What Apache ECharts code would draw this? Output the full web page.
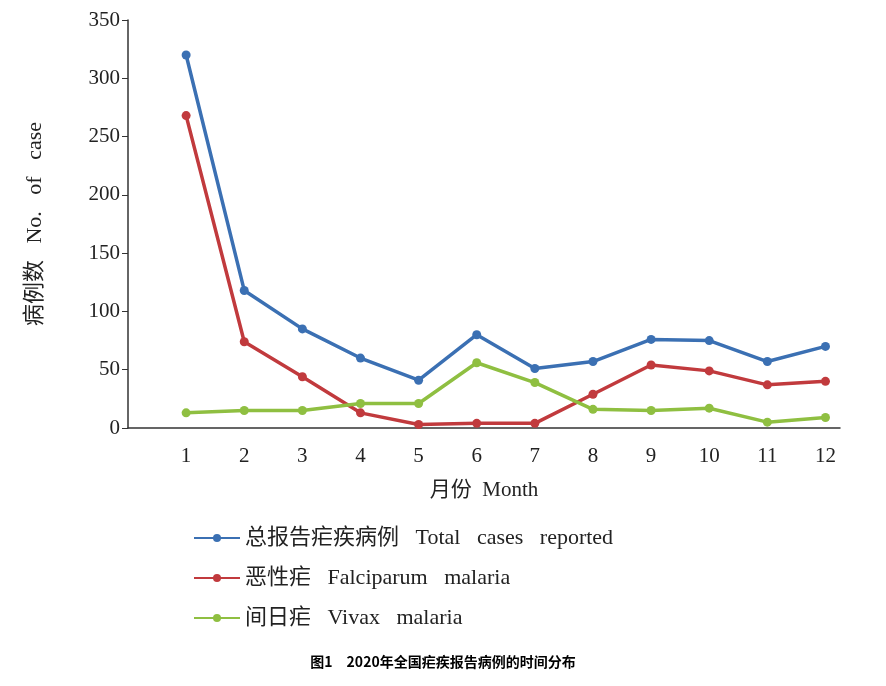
<!DOCTYPE html>
<html>
<head>
<meta charset="utf-8">
<script src="https://cdn.jsdelivr.net/npm/echarts@6/dist/echarts.min.js"></script>
<style>html,body{margin:0;background:#fff}#chart-container{width:886px;height:686px}</style>
</head>
<body>
<div id="chart-container"></div>
<script>
var months = [1, 2, 3, 4, 5, 6, 7, 8, 9, 10, 11, 12];
var totalCases = [320, 118, 85, 60, 41, 80, 51, 57, 76, 75, 57, 70];
var falciparum = [268, 74, 44, 13, 3, 4, 4, 29, 54, 49, 37, 40];
var vivax = [13, 15, 15, 21, 21, 56, 39, 16, 15, 17, 5, 9];
var seriesNames = ['总报告疟疾病例   Total   cases   reported', '恶性疟   Falciparum   malaria', '间日疟   Vivax   malaria'];
var colors = ['#3b70b3', '#c13a3d', '#8fbf41'];

function pairs(vals) {
  return months.map(function (m, i) { return [m, vals[i]]; });
}

var dom = document.getElementById('chart-container');
var myChart = echarts.init(dom, null, { renderer: 'canvas' });
var serif = 'Liberation Serif, DejaVu Serif, Noto Sans CJK SC, serif';

var option = {
  animation: false,
  textStyle: { fontFamily: serif },
  title: {
    text: '图1　2020年全国疟疾报告病例的时间分布',
    left: 'center', top: 650,
    textStyle: { fontFamily: 'Noto Sans CJK SC', fontSize: 14, fontWeight: 'bold', color: '#000' }
  },
  legend: {
    data: seriesNames,
    orient: 'vertical',
    left: 188, top: 522,
    itemWidth: 46, itemHeight: 10,
    itemGap: 18,
    textStyle: { fontFamily: serif, fontSize: 22, color: '#222' }
  },
  grid: { left: 128, right: 46, top: 20, bottom: 258 },
  xAxis: {
    type: 'value', min: 0, max: 12.25, interval: 1,
    name: '月份  Month', nameLocation: 'middle', nameGap: 52,
    nameTextStyle: { fontFamily: serif, fontSize: 21, color: '#222' },
    axisLine: { lineStyle: { color: '#333', width: 1.5 } },
    axisTick: { show: false },
    splitLine: { show: false },
    axisLabel: {
      fontSize: 21, color: '#222', margin: 18, showMaxLabel: false,
      formatter: function (v) { return v === 0 ? '' : v; }
    }
  },
  yAxis: {
    type: 'value', min: 0, max: 350, interval: 50,
    name: '病例数   No.   of   case', nameLocation: 'middle', nameGap: 82,
    nameTextStyle: { fontFamily: serif, fontSize: 22, color: '#222' },
    axisLine: { show: true, lineStyle: { color: '#333', width: 1.5 } },
    axisTick: { show: true, length: 6, lineStyle: { color: '#333' } },
    splitLine: { show: false },
    axisLabel: { fontSize: 21, color: '#222', margin: 8 }
  },
  series: [totalCases, falciparum, vivax].map(function (vals, i) {
    return {
      name: seriesNames[i], type: 'line', data: pairs(vals),
      symbol: 'circle', symbolSize: 9,
      lineStyle: { color: colors[i], width: 3.5 },
      itemStyle: { color: colors[i] }
    };
  })
};

myChart.setOption(option);
window.addEventListener('resize', myChart.resize);
</script>
</body>
</html>
